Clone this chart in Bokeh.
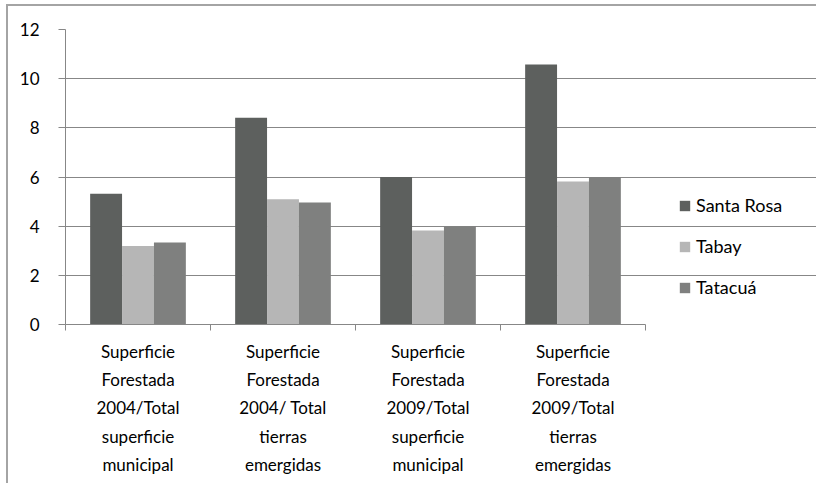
from bokeh.plotting import figure
from bokeh.models import Range1d, FixedTicker, Legend, LegendItem
from bokeh.embed import file_html
from bokeh.resources import INLINE

categories = [
    "Superficie\nForestada\n2004/Total\nsuperficie\nmunicipal",
    "Superficie\nForestada\n2004/ Total\ntierras\nemergidas",
    "Superficie\nForestada\n2009/Total\nsuperficie\nmunicipal",
    "Superficie\nForestada\n2009/Total\ntierras\nemergidas",
]
series_names = ["Santa Rosa", "Tabay", "Tatacuá"]
santa_rosa = [5.32, 8.41, 6.0, 10.58]
tabay = [3.19, 5.10, 3.82, 5.82]
tatacua = [3.34, 4.96, 4.0, 6.0]
y_ticks = [0, 2, 4, 6, 8, 10, 12]

colors = ["#5d605e", "#b6b6b6", "#7f807f"]
FONT = "Lato"
n = len(categories)

p = figure(width=810, height=479, output_backend="svg", toolbar_location=None,
           x_range=Range1d(0, 753 / 145), y_range=Range1d(0, 12),
           min_border_left=57, min_border_right=0, min_border_top=23,
           min_border_bottom=161)
p.styles = {"border-left": "2px solid #a4a4a4", "border-top": "2px solid #a4a4a4",
            "margin-left": "6px", "margin-top": "4px"}
p.outline_line_color = None
p.background_fill_color = "white"
p.border_fill_color = "white"

centers = [i + 0.5 for i in range(n)]
bw = 0.22
renderers = []
for k, (vals, col) in enumerate(zip([santa_rosa, tabay, tatacua], colors)):
    xs = [c + (k - 1) * bw for c in centers]
    r = p.vbar(x=xs, top=vals, bottom=0, width=bw, fill_color=col, line_color=None)
    renderers.append(r)

# grid
p.xgrid.visible = False
p.ygrid.ticker = FixedTicker(ticks=y_ticks)
p.ygrid.grid_line_color = "#878787"
p.ygrid.grid_line_width = 1
p.ygrid.bounds = (0, n)

# y axis
p.yaxis.ticker = FixedTicker(ticks=y_ticks)
p.yaxis.axis_line_color = "#878787"
p.yaxis.major_tick_line_color = "#878787"
p.yaxis.major_tick_out = 7
p.yaxis.major_tick_in = 0
p.yaxis.minor_tick_line_color = None
p.yaxis.major_label_text_font = FONT
p.yaxis.major_label_text_font_size = "17px"
p.yaxis.major_label_text_color = "#000000"
p.yaxis.major_label_standoff = 19

# x axis
p.xaxis.ticker = FixedTicker(ticks=centers, minor_ticks=list(range(n + 1)))
p.xaxis.bounds = (0, n)
p.xaxis.major_label_overrides = {c: lab for c, lab in zip(centers, categories)}
p.xaxis.axis_line_color = "#878787"
p.xaxis.major_tick_line_color = None
p.xaxis.major_tick_out = 0
p.xaxis.major_tick_in = 0
p.xaxis.minor_tick_line_color = "#878787"
p.xaxis.minor_tick_out = 6
p.xaxis.minor_tick_in = 0
p.xaxis.major_label_text_font = FONT
p.xaxis.major_label_text_font_size = "17px"
p.xaxis.major_label_text_color = "#000000"
p.xaxis.major_label_text_line_height = 1.35
p.xaxis.major_label_standoff = 10
p.xaxis.major_label_text_align = "center"

legend = Legend(items=[LegendItem(label=s, renderers=[r]) for s, r in zip(series_names, renderers)],
                location=(613, 26), orientation="vertical")
legend.border_line_color = None
legend.background_fill_alpha = 0
legend.padding = 0
legend.margin = 0
legend.glyph_width = 13
legend.glyph_height = 13
legend.label_height = 20
legend.spacing = 19
legend.label_standoff = 5
legend.label_text_font = FONT
legend.label_text_font_size = "18px"
legend.label_text_color = "#000000"
p.add_layout(legend, "center")

open("out.html", "w").write(file_html(p, INLINE))
